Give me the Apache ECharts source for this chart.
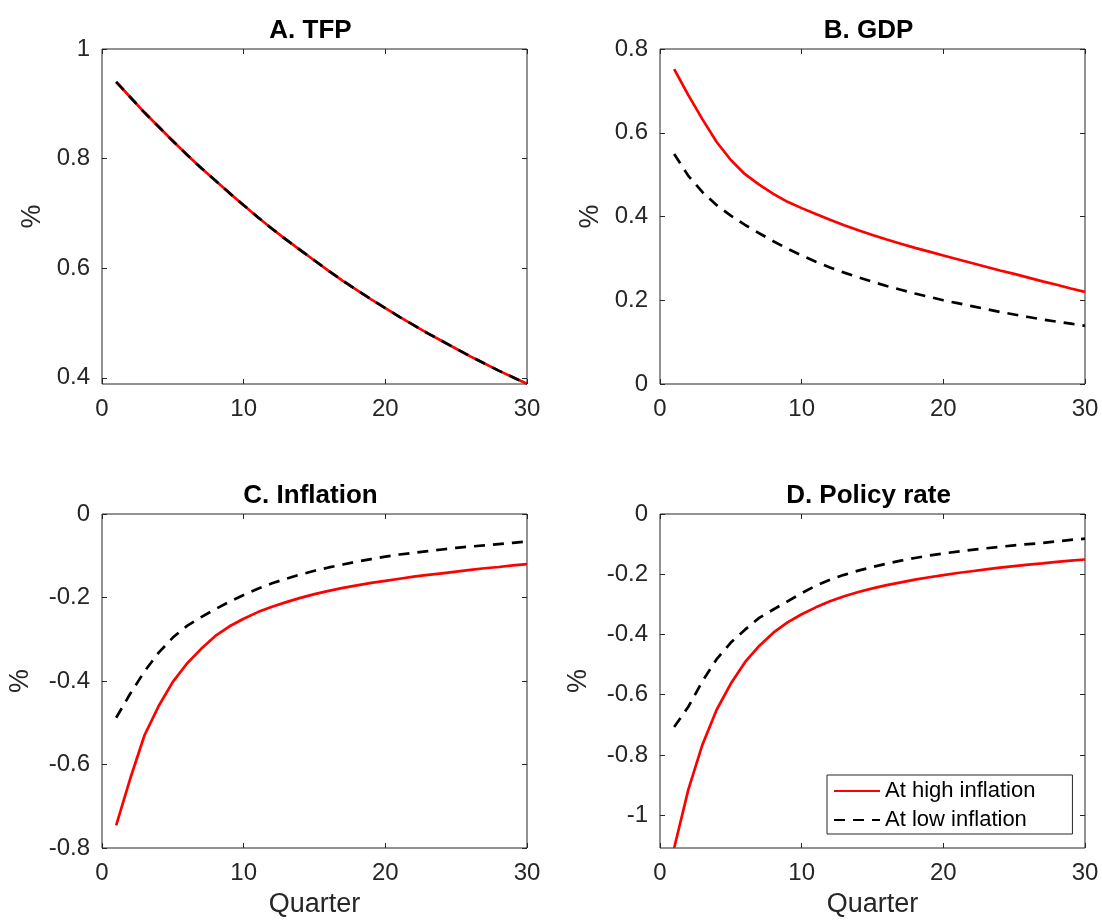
<!DOCTYPE html>
<html><head><meta charset="utf-8">
<script src="https://cdn.jsdelivr.net/npm/echarts@6/dist/echarts.min.js"></script>
<style>html,body{margin:0;padding:0;background:#fff}#c{width:1102px;height:923px}</style>
</head><body><div id="c"></div>
<script>
const quarters = [1,2,3,4,5,6,7,8,9,10,11,12,13,14,15,16,17,18,19,20,21,22,23,24,25,26,27,28,29,30];
const seriesNames = ['At high inflation','At low inflation'];
const panelTitles = ['A. TFP','B. GDP','C. Inflation','D. Policy rate'];

const tfpHigh = [0.940,0.912,0.884,0.858,0.832,0.807,0.783,0.760,0.737,0.715,0.693,0.672,0.652,0.633,0.614,0.595,0.577,0.560,0.543,0.527,0.511,0.496,0.481,0.467,0.453,0.439,0.426,0.413,0.401,0.389];
const tfpLow  = [0.940,0.912,0.884,0.858,0.832,0.807,0.783,0.760,0.737,0.715,0.693,0.672,0.652,0.633,0.614,0.595,0.577,0.560,0.543,0.527,0.511,0.496,0.481,0.467,0.453,0.439,0.426,0.413,0.401,0.389];
const gdpHigh = [0.752,0.690,0.632,0.578,0.535,0.501,0.476,0.454,0.435,0.420,0.406,0.392,0.379,0.367,0.356,0.345,0.335,0.325,0.316,0.307,0.298,0.289,0.280,0.271,0.263,0.254,0.245,0.237,0.228,0.220];
const gdpLow  = [0.549,0.497,0.458,0.427,0.402,0.380,0.360,0.341,0.323,0.307,0.292,0.278,0.266,0.255,0.244,0.234,0.225,0.216,0.208,0.200,0.193,0.186,0.179,0.172,0.166,0.160,0.154,0.149,0.144,0.139];
const infHigh = [-0.746,-0.633,-0.530,-0.460,-0.402,-0.358,-0.323,-0.292,-0.269,-0.251,-0.235,-0.222,-0.211,-0.201,-0.192,-0.184,-0.177,-0.171,-0.165,-0.160,-0.155,-0.150,-0.146,-0.142,-0.138,-0.134,-0.130,-0.127,-0.123,-0.120];
const infLow  = [-0.488,-0.430,-0.377,-0.332,-0.296,-0.268,-0.247,-0.228,-0.210,-0.194,-0.179,-0.166,-0.155,-0.145,-0.136,-0.128,-0.121,-0.114,-0.108,-0.102,-0.097,-0.093,-0.089,-0.085,-0.081,-0.078,-0.075,-0.072,-0.069,-0.066];
const rateHigh = [-1.109,-0.915,-0.765,-0.650,-0.563,-0.492,-0.438,-0.394,-0.360,-0.333,-0.310,-0.290,-0.273,-0.259,-0.247,-0.236,-0.227,-0.218,-0.210,-0.203,-0.196,-0.190,-0.184,-0.178,-0.173,-0.168,-0.164,-0.159,-0.155,-0.151];
const rateLow  = [-0.707,-0.640,-0.555,-0.482,-0.427,-0.384,-0.345,-0.317,-0.290,-0.263,-0.238,-0.218,-0.202,-0.188,-0.176,-0.165,-0.155,-0.146,-0.138,-0.131,-0.125,-0.119,-0.114,-0.109,-0.104,-0.100,-0.096,-0.091,-0.086,-0.082];

const yTicksA = [0.4,0.6,0.8,1];
const yTicksB = [0,0.2,0.4,0.6,0.8];
const yTicksC = [-0.8,-0.6,-0.4,-0.2,0];
const yTicksD = [-1,-0.8,-0.6,-0.4,-0.2,0];

const panels = [
  {title: panelTitles[0], hi: tfpHigh, lo: tfpLow, yTicks: yTicksA, ymin: 0.3886, ymax: 1, custom:true, grid:{left:102,top:49,width:425,height:335}, nameGap:56, xName:''},
  {title: panelTitles[1], hi: gdpHigh, lo: gdpLow, yTicks: yTicksB, ymin: 0, ymax: 0.8, custom:false, grid:{left:660,top:49,width:425,height:335}, nameGap:56, xName:''},
  {title: panelTitles[2], hi: infHigh, lo: infLow, yTicks: yTicksC, ymin: -0.8, ymax: 0, custom:false, grid:{left:102,top:514,width:425,height:334}, nameGap:68, xName:'Quarter'},
  {title: panelTitles[3], hi: rateHigh, lo: rateLow, yTicks: yTicksD, ymin: -1.109, ymax: 0, custom:true, grid:{left:660,top:514,width:425,height:334}, nameGap:68, xName:'Quarter'}
];

const FONT = '"Liberation Sans", Arial, Helvetica, sans-serif';
const TXT = '#262626';
const option = {
  animation:false, backgroundColor:'#fff',
  textStyle:{fontFamily:FONT},
  title:[], grid:[], xAxis:[], yAxis:[], series:[],
  legend:{
    data:seriesNames, orient:'vertical', left:827, top:775,
    backgroundColor:'#fff', borderColor:TXT, borderWidth:1, borderRadius:0,
    padding:[5,37,3,6], itemGap:7, itemWidth:46, itemHeight:14,
    itemStyle:{opacity:0},
    textStyle:{fontSize:22, color:'#000', fontFamily:FONT}
  }
};
function labelFmt(v){ return String(Math.round(v*10)/10); }
const tickLine = {color:TXT, width:1};
panels.forEach((p,i)=>{
  const g = p.grid;
  option.grid.push({left:g.left, top:g.top, width:g.width, height:g.height, show:true, borderColor:TXT, borderWidth:1});
  option.title.push({text:p.title, left:g.left+g.width/2-9, top:g.top-36, textAlign:'center',
    textStyle:{fontSize:26, fontWeight:'bold', color:'#000', fontFamily:FONT}});
  const xBase = option.xAxis.length, yBase = option.yAxis.length;
  option.xAxis.push({type:'value', gridIndex:i, min:0, max:30, interval:10, position:'bottom',
    name:p.xName, nameLocation:'middle', nameGap:43, nameTextStyle:{fontSize:27, color:TXT, fontFamily:FONT},
    axisLine:{show:false, onZero:false}, splitLine:{show:false},
    axisTick:{inside:true, length:5, lineStyle:tickLine},
    axisLabel:{fontSize:24, color:TXT, margin:13, fontFamily:FONT}});
  option.xAxis.push({type:'value', gridIndex:i, min:0, max:30, interval:10, position:'top',
    axisLine:{show:false, onZero:false}, splitLine:{show:false}, axisLabel:{show:false},
    axisTick:{inside:true, length:5, lineStyle:tickLine}});
  if (p.custom) {
    option.yAxis.push({type:'value', gridIndex:i, min:p.ymin, max:p.ymax, position:'left',
      name:'%', nameLocation:'middle', nameGap:p.nameGap, nameRotate:90,
      nameTextStyle:{fontSize:27, color:TXT, fontFamily:FONT},
      axisLine:{show:false, onZero:false}, splitLine:{show:false}, axisTick:{show:false},
      axisLabel:{fontSize:24, color:TXT, margin:12, customValues:p.yTicks, formatter:labelFmt, fontFamily:FONT}});
    option.yAxis.push({type:'value', gridIndex:i, min:p.ymin, max:p.ymax, position:'right', offset:-g.width,
      axisLine:{show:false, onZero:false}, splitLine:{show:false}, axisLabel:{show:false},
      axisTick:{inside:false, length:5, customValues:p.yTicks, lineStyle:tickLine}});
    option.yAxis.push({type:'value', gridIndex:i, min:p.ymin, max:p.ymax, position:'left', offset:-g.width,
      axisLine:{show:false, onZero:false}, splitLine:{show:false}, axisLabel:{show:false},
      axisTick:{inside:false, length:5, customValues:p.yTicks, lineStyle:tickLine}});
  } else {
    option.yAxis.push({type:'value', gridIndex:i, min:p.ymin, max:p.ymax, interval:0.2, position:'left',
      name:'%', nameLocation:'middle', nameGap:p.nameGap, nameRotate:90,
      nameTextStyle:{fontSize:27, color:TXT, fontFamily:FONT},
      axisLine:{show:false, onZero:false}, splitLine:{show:false},
      axisTick:{inside:true, length:5, lineStyle:tickLine},
      axisLabel:{fontSize:24, color:TXT, margin:12, formatter:labelFmt, fontFamily:FONT}});
    option.yAxis.push({type:'value', gridIndex:i, min:p.ymin, max:p.ymax, interval:0.2, position:'right',
      axisLine:{show:false, onZero:false}, splitLine:{show:false}, axisLabel:{show:false},
      axisTick:{inside:true, length:5, lineStyle:tickLine}});
  }
  option.series.push({name:seriesNames[0], type:'line', xAxisIndex:xBase, yAxisIndex:yBase,
    data:quarters.map((q,k)=>[q,p.hi[k]]), showSymbol:false, symbol:'none',
    lineStyle:{color:'#ff0000', width:2.7, type:'solid'}, itemStyle:{color:'#ff0000'}, z:2});
  option.series.push({name:seriesNames[1], type:'line', xAxisIndex:xBase, yAxisIndex:yBase,
    data:quarters.map((q,k)=>[q,p.lo[k]]), showSymbol:false, symbol:'none',
    lineStyle:{color:'#000000', width:2.7, type:[11,8]}, itemStyle:{color:'#000000'}, z:3});
});
const chart = echarts.init(document.getElementById('c'), null, {renderer:'canvas'});
chart.setOption(option);
</script></body></html>
